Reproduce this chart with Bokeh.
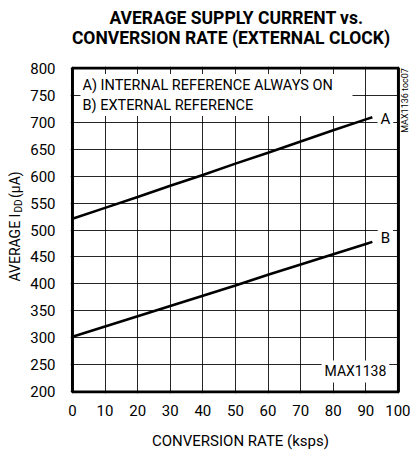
import math
from bokeh.plotting import figure
from bokeh.models import Range1d, FixedTicker, Label, BoxAnnotation
from bokeh.layouts import row, column
from bokeh.embed import file_html
from bokeh.resources import INLINE

FONT = "Roboto"

# data
rate = [0, 10, 20, 30, 40, 50, 60, 70, 80, 90, 92]
curve_a = [521, 541, 561, 582, 602, 623, 643, 664, 685, 705, 709]
curve_b = [302, 321, 340, 359, 378, 397, 417, 436, 455, 474, 478]
x_ticks = [0, 10, 20, 30, 40, 50, 60, 70, 80, 90, 100]
y_ticks = [200, 250, 300, 350, 400, 450, 500, 550, 600, 650, 700, 750, 800]


def lab(fig, text, x, y, size="15px", align="left", base="middle", angle=0, style="normal", bg=None):
    kw = dict(x=x, y=y, text=text, text_font=FONT, text_font_size=size,
              text_align=align, text_baseline=base, angle=angle,
              text_font_style=style, text_color="black")
    if bg:
        kw.update(background_fill_color=bg, background_fill_alpha=1, padding=3)
    fig.add_layout(Label(**kw))


def blank(w, h):
    f = figure(frame_width=w, frame_height=h, output_backend="svg", toolbar_location=None,
               x_range=Range1d(0, w), y_range=Range1d(0, h),
               x_axis_location=None, y_axis_location=None,
               min_border_left=0, min_border_right=0, min_border_top=0, min_border_bottom=0)
    f.title.visible = False
    f.grid.visible = False
    f.outline_line_color = None
    f.background_fill_color = "white"
    f.border_fill_color = "white"
    return f


# ---- main chart ----
p = figure(frame_width=340, frame_height=327, output_backend="svg",
           toolbar_location=None, x_range=Range1d(-0.6, 103.7), y_range=Range1d(197, 803),
           min_border_left=44, min_border_right=0, min_border_top=6, min_border_bottom=60)
p.title.visible = False
p.background_fill_color = "white"
p.border_fill_color = "white"
p.outline_line_color = None

p.xaxis.ticker = FixedTicker(ticks=x_ticks)
p.yaxis.ticker = FixedTicker(ticks=y_ticks)
for ax in (p.xaxis[0], p.yaxis[0]):
    ax.axis_line_color = None
    ax.major_tick_line_color = None
    ax.minor_tick_line_color = None
    ax.major_tick_in = 0
    ax.major_tick_out = 0
    ax.major_label_text_font = FONT
    ax.major_label_text_font_size = "15px"
    ax.major_label_text_color = "black"
p.yaxis.major_label_standoff = 15
p.xaxis.major_label_standoff = 11
p.xaxis.axis_label = "CONVERSION RATE (ksps)"
p.xaxis.axis_label_text_font = FONT
p.xaxis.axis_label_text_font_size = "15px"
p.xaxis.axis_label_text_font_style = "normal"
p.xaxis.axis_label_text_color = "black"
p.xaxis.axis_label_standoff = 13

p.xgrid.ticker = FixedTicker(ticks=x_ticks)
p.ygrid.ticker = FixedTicker(ticks=y_ticks)
for g in (p.xgrid[0], p.ygrid[0]):
    g.grid_line_color = "black"
    g.grid_line_width = 1
    g.grid_line_alpha = 0.85

p.line(rate, curve_a, line_color="black", line_width=2.6)
p.line(rate, curve_b, line_color="black", line_width=2.6)

# white strip right of the chart box (watermark area), then the thick chart border
p.add_layout(BoxAnnotation(left=100, right=103.7, bottom=197, top=803,
                           fill_color="white", fill_alpha=1, line_alpha=0))
p.add_layout(BoxAnnotation(left=0, right=100, bottom=200, top=800,
                           fill_alpha=0, line_color="black", line_width=3, line_alpha=1))

# legend
p.add_layout(BoxAnnotation(left=2.45, right=85.9, bottom=711.1, top=788.9,
                           fill_color="white", fill_alpha=1, line_alpha=0))
lab(p, "A) INTERNAL REFERENCE ALWAYS ON", 3.07, 768.5, size="14.5px")
lab(p, "B) EXTERNAL REFERENCE", 3.07, 731.5, size="14.5px")
lab(p, "A", 96.0, 706.5, align="center", bg="white")
lab(p, "B", 96.0, 485.2, align="center", bg="white")
lab(p, "MAX1138", 86.8, 238.0, size="14px", align="center", bg="white")

# watermark
lab(p, "MAX1136 toc07", 102.0, 740, size="9px", align="center", base="middle", angle=math.pi / 2)

# ---- title strip ----
top = blank(410, 60)
lab(top, "AVERAGE SUPPLY CURRENT vs.", 236, 42.5, size="17.5px", align="center", style="bold")
lab(top, "CONVERSION RATE (EXTERNAL CLOCK)", 230.5, 23, size="17.5px", align="center", style="bold")

# ---- y label strip ----
left = blank(26, 393)
lab(left, "AVERAGE I", 14.75, 178, size="14px", align="left", base="middle", angle=math.pi / 2)
lab(left, "DD", 18, 247, size="10px", align="left", base="middle", angle=math.pi / 2)
lab(left, " (µA)", 14.75, 261.5, size="14px", align="left", base="middle", angle=math.pi / 2)

layout = column(top, row(left, p))
open("out.html", "w").write(file_html(layout, INLINE))
